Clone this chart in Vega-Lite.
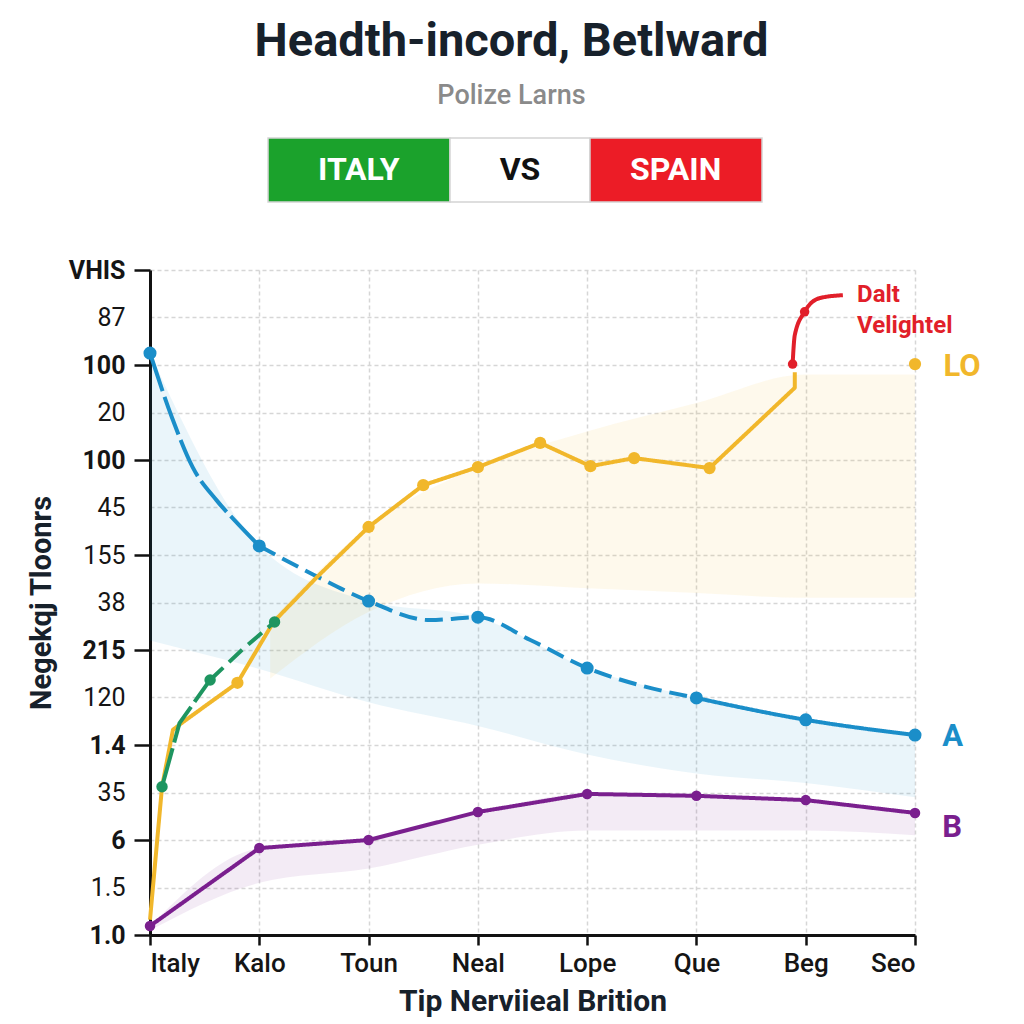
{
  "$schema": "https://vega.github.io/schema/vega-lite/v6.json",
  "autosize": {"type": "none"},
  "width": 765,
  "height": 665,
  "padding": {"left": 150, "top": 270, "right": 109, "bottom": 89},
  "background": "#ffffff",
  "config": {"font": "Roboto", "view": {"stroke": null}},
  "title": {
    "text": "Headth-incord, Betlward",
    "subtitle": "Polize Larns",
    "fontSize": 47,
    "fontWeight": "bold",
    "color": "#17212b",
    "subtitleFontSize": 27,
    "subtitleColor": "#8a8a8a",
    "subtitleFontWeight": 500,
    "subtitlePadding": 17,
    "anchor": "middle",
    "frame": "group",
    "dx": -21,
    "offset": 27
  },
  "datasets": {
    "lines": [
      {"s": "A", "g": "A1", "d": "long", "i": 0, "u": 0, "v": 12.25},
      {"s": "A", "g": "A1", "d": "long", "i": 1, "u": 0.2, "v": 10.9},
      {"s": "A", "g": "A1", "d": "long", "i": 2, "u": 0.39, "v": 9.85},
      {"s": "A", "g": "A1", "d": "long", "i": 3, "u": 0.61, "v": 9.15},
      {"s": "A", "g": "A1", "d": "long", "i": 4, "u": 0.82, "v": 8.62},
      {"s": "A", "g": "A1", "d": "long", "i": 5, "u": 1, "v": 8.19},
      {"s": "A", "g": "A2", "d": "dash", "i": 0, "u": 1, "v": 8.19},
      {"s": "A", "g": "A2", "d": "dash", "i": 1, "u": 1.5, "v": 7.58},
      {"s": "A", "g": "A2", "d": "dash", "i": 2, "u": 2, "v": 7.03},
      {"s": "A", "g": "A2", "d": "dash", "i": 3, "u": 2.56, "v": 6.63},
      {"s": "A", "g": "A2", "d": "dash", "i": 4, "u": 3, "v": 6.69},
      {"s": "A", "g": "A2", "d": "dash", "i": 5, "u": 3.48, "v": 6.21},
      {"s": "A", "g": "A2", "d": "dash", "i": 6, "u": 4, "v": 5.62},
      {"s": "A", "g": "A2", "d": "dash", "i": 7, "u": 4.48, "v": 5.26},
      {"s": "A", "g": "A2", "d": "dash", "i": 8, "u": 5, "v": 4.99},
      {"s": "A", "g": "A3", "d": "solid", "i": 0, "u": 5, "v": 4.99},
      {"s": "A", "g": "A3", "d": "solid", "i": 1, "u": 6, "v": 4.53},
      {"s": "A", "g": "A3", "d": "solid", "i": 2, "u": 7, "v": 4.21},
      {"s": "LO", "g": "L1", "d": "solid", "i": 0, "u": 0, "v": 0.32},
      {"s": "LO", "g": "L1", "d": "solid", "i": 1, "u": 0.11, "v": 3.12},
      {"s": "LO", "g": "L1", "d": "solid", "i": 2, "u": 0.21, "v": 4.32},
      {"s": "LO", "g": "L1", "d": "solid", "i": 3, "u": 0.3, "v": 4.48},
      {"s": "LO", "g": "L1", "d": "solid", "i": 4, "u": 0.8, "v": 5.31},
      {"s": "LO", "g": "L1", "d": "solid", "i": 5, "u": 1.13, "v": 6.59},
      {"s": "LO", "g": "L1", "d": "solid", "i": 6, "u": 1.53, "v": 7.54},
      {"s": "LO", "g": "L1", "d": "solid", "i": 7, "u": 2, "v": 8.59},
      {"s": "LO", "g": "L1", "d": "solid", "i": 8, "u": 2.5, "v": 9.47},
      {"s": "LO", "g": "L1", "d": "solid", "i": 9, "u": 3, "v": 9.85},
      {"s": "LO", "g": "L1", "d": "solid", "i": 10, "u": 3.57, "v": 10.36},
      {"s": "LO", "g": "L1", "d": "solid", "i": 11, "u": 4.03, "v": 9.87},
      {"s": "LO", "g": "L1", "d": "solid", "i": 12, "u": 4.43, "v": 10.04},
      {"s": "LO", "g": "L1", "d": "solid", "i": 13, "u": 5.12, "v": 9.83},
      {"s": "LO", "g": "L1", "d": "solid", "i": 14, "u": 5.9, "v": 11.52},
      {"s": "LO", "g": "L1", "d": "solid", "i": 15, "u": 5.9, "v": 11.85},
      {"s": "G", "g": "G1", "d": "long", "i": 0, "u": 0.11, "v": 3.12},
      {"s": "G", "g": "G1", "d": "long", "i": 1, "u": 0.27, "v": 4.46},
      {"s": "G", "g": "G1", "d": "long", "i": 2, "u": 0.55, "v": 5.37},
      {"s": "G", "g": "G2", "d": "dash", "i": 0, "u": 0.55, "v": 5.37},
      {"s": "G", "g": "G2", "d": "dash", "i": 1, "u": 0.85, "v": 6.02},
      {"s": "G", "g": "G2", "d": "dash", "i": 2, "u": 1.14, "v": 6.59},
      {"s": "B", "g": "B1", "d": "solid", "i": 0, "u": 0, "v": 0.19},
      {"s": "B", "g": "B1", "d": "solid", "i": 1, "u": 1, "v": 1.83},
      {"s": "B", "g": "B1", "d": "solid", "i": 2, "u": 2, "v": 2.0},
      {"s": "B", "g": "B1", "d": "solid", "i": 3, "u": 3, "v": 2.59},
      {"s": "B", "g": "B1", "d": "solid", "i": 4, "u": 4, "v": 2.97},
      {"s": "B", "g": "B1", "d": "solid", "i": 5, "u": 5, "v": 2.93},
      {"s": "B", "g": "B1", "d": "solid", "i": 6, "u": 6, "v": 2.84},
      {"s": "B", "g": "B1", "d": "solid", "i": 7, "u": 7, "v": 2.57},
      {"s": "R", "g": "R1", "d": "solid", "i": 0, "u": 5.88, "v": 12.02},
      {"s": "R", "g": "R1", "d": "solid", "i": 1, "u": 5.9, "v": 12.63},
      {"s": "R", "g": "R1", "d": "solid", "i": 2, "u": 5.99, "v": 13.12},
      {"s": "R", "g": "R1", "d": "solid", "i": 3, "u": 6.13, "v": 13.41},
      {"s": "R", "g": "R1", "d": "solid", "i": 4, "u": 6.34, "v": 13.47}
    ],
    "points": [
      {"s": "A", "u": 0, "v": 12.25}, {"s": "A", "u": 1, "v": 8.19}, {"s": "A", "u": 2, "v": 7.03},
      {"s": "A", "u": 3, "v": 6.69}, {"s": "A", "u": 4, "v": 5.62}, {"s": "A", "u": 5, "v": 4.99},
      {"s": "A", "u": 6, "v": 4.53}, {"s": "A", "u": 7, "v": 4.21},
      {"s": "LO", "u": 0.8, "v": 5.31}, {"s": "LO", "u": 2, "v": 8.59}, {"s": "LO", "u": 2.5, "v": 9.47},
      {"s": "LO", "u": 3, "v": 9.85}, {"s": "LO", "u": 3.57, "v": 10.36}, {"s": "LO", "u": 4.03, "v": 9.87},
      {"s": "LO", "u": 4.43, "v": 10.04}, {"s": "LO", "u": 5.12, "v": 9.83}, {"s": "LO", "u": 7, "v": 12.02},
      {"s": "G", "u": 0.11, "v": 3.12}, {"s": "G", "u": 0.55, "v": 5.37}, {"s": "G", "u": 1.14, "v": 6.59},
      {"s": "B", "u": 0, "v": 0.19}, {"s": "B", "u": 1, "v": 1.83}, {"s": "B", "u": 2, "v": 2.0},
      {"s": "B", "u": 3, "v": 2.59}, {"s": "B", "u": 4, "v": 2.97}, {"s": "B", "u": 5, "v": 2.93},
      {"s": "B", "u": 6, "v": 2.84}, {"s": "B", "u": 7, "v": 2.57},
      {"s": "R", "u": 5.88, "v": 12.02}, {"s": "R", "u": 5.99, "v": 13.12}
    ],
    "bands": [
      {"s": "A", "u": 0, "v": 12.25, "v2": 6.2}, {"s": "A", "u": 1, "v": 8.19, "v2": 5.6},
      {"s": "A", "u": 2, "v": 7.03, "v2": 4.9}, {"s": "A", "u": 3, "v": 6.69, "v2": 4.4},
      {"s": "A", "u": 4, "v": 5.62, "v2": 3.8}, {"s": "A", "u": 5, "v": 4.99, "v2": 3.4},
      {"s": "A", "u": 6, "v": 4.53, "v2": 3.2}, {"s": "A", "u": 7, "v": 4.21, "v2": 2.9},
      {"s": "LO", "u": 1.1, "v": 6.6, "v2": 5.4}, {"s": "LO", "u": 2, "v": 8.6, "v2": 6.8},
      {"s": "LO", "u": 3, "v": 9.85, "v2": 7.4}, {"s": "LO", "u": 4, "v": 10.6, "v2": 7.3},
      {"s": "LO", "u": 5, "v": 11.2, "v2": 7.2}, {"s": "LO", "u": 6, "v": 11.8, "v2": 7.1},
      {"s": "LO", "u": 7, "v": 11.8, "v2": 7.1},
      {"s": "B", "u": 0, "v": 0.19, "v2": 0.1}, {"s": "B", "u": 1, "v": 1.83, "v2": 1.1},
      {"s": "B", "u": 2, "v": 2.0, "v2": 1.4}, {"s": "B", "u": 3, "v": 2.59, "v2": 1.9},
      {"s": "B", "u": 4, "v": 2.97, "v2": 2.2}, {"s": "B", "u": 5, "v": 2.93, "v2": 2.2},
      {"s": "B", "u": 6, "v": 2.84, "v2": 2.2}, {"s": "B", "u": 7, "v": 2.57, "v2": 2.1}
    ],
    "labels": [
      {"s": "R", "t": "Dalt", "u": 6.47, "v": 13.47},
      {"s": "R", "t": "Velightel", "u": 6.47, "v": 12.82},
      {"s": "LO", "t": "LO", "u": 7.26, "v": 11.96},
      {"s": "A", "t": "A", "u": 7.25, "v": 4.17},
      {"s": "B", "t": "B", "u": 7.25, "v": 2.25}
    ],
    "banner": [
      {"t": "ITALY", "u": 1.08, "u2": 2.745, "uc": 1.91, "v": 15.43, "v2": 16.78, "vc": 16.1},
      {"t": "VS", "u": 2.745, "u2": 4.026, "uc": 3.385, "v": 15.43, "v2": 16.78, "vc": 16.1},
      {"t": "SPAIN", "u": 4.026, "u2": 5.6, "uc": 4.81, "v": 15.43, "v2": 16.78, "vc": 16.1}
    ]
  },
  "encoding": {
    "x": {
      "field": "u", "type": "quantitative",
      "scale": {"domain": [0, 7], "nice": false, "zero": false},
      "axis": {
        "title": "Tip Nerviieal Brition",
        "values": [0, 1, 2, 3, 4, 5, 6, 7],
        "labelExpr": "['Italy','Kalo','Toun','Neal','Lope','Que','Beg','Seo'][datum.value]",
        "labelFontSize": 26, "labelFontWeight": 500, "labelColor": "#151515", "labelPadding": 5,
        "titleFontSize": 30, "titleFontWeight": "bold", "titleColor": "#17212b", "titlePadding": 10,
        "grid": true, "gridColor": "#d6d6d6", "gridDash": [4, 3], "gridWidth": 1.5,
        "domainColor": "#111111", "domainWidth": 3, "tickColor": "#111111", "tickWidth": 2.5, "tickSize": 10
      }
    },
    "y": {
      "field": "v", "type": "quantitative",
      "scale": {"domain": [0, 14], "nice": false, "zero": false},
      "axis": {
        "title": "Negekqj Tloonrs",
        "values": [0, 1, 2, 3, 4, 5, 6, 7, 8, 9, 10, 11, 12, 13, 14],
        "labelExpr": "['1.0','1.5','6','35','1.4','120','215','38','155','45','100','20','100','87','VHIS'][datum.value]",
        "labelFontSize": 25, "labelColor": "#151515", "labelPadding": 9,
        "labelFontWeight": {"condition": {"test": "datum.value % 2 == 0 && datum.value != 8", "value": "bold"}, "value": "normal"},
        "tickOpacity": {"condition": {"test": "datum.value % 2 == 0", "value": 1}, "value": 0},
        "titleFontSize": 29, "titleFontWeight": "bold", "titleColor": "#17212b", "titlePadding": 12,
        "grid": true, "gridColor": "#d6d6d6", "gridDash": [4, 3], "gridWidth": 1.5,
        "domainColor": "#111111", "domainWidth": 3, "tickColor": "#111111", "tickWidth": 2.5, "tickSize": 16
      }
    }
  },
  "layer": [
    {
      "data": {"name": "bands"},
      "mark": {"type": "area", "fillOpacity": 0.09, "interpolate": "monotone"},
      "encoding": {
        "y2": {"field": "v2"},
        "color": {"field": "s", "type": "nominal", "legend": null,
          "scale": {"domain": ["A", "LO", "G", "B", "R"], "range": ["#1b8ec9", "#f1b72b", "#1e9560", "#7a1f8e", "#e11f2a"]}},
        "detail": {"field": "s"}
      }
    },
    {
      "data": {"name": "lines"},
      "transform": [{"filter": "datum.s == 'A' || datum.s == 'R'"}],
      "mark": {"type": "line", "strokeWidth": 4, "strokeCap": "butt", "strokeJoin": "round", "interpolate": "monotone"},
      "encoding": {
        "color": {"field": "s", "type": "nominal", "legend": null},
        "detail": {"field": "g"},
        "order": {"field": "i", "type": "quantitative"},
        "strokeDash": {"field": "d", "type": "nominal", "legend": null,
          "scale": {"domain": ["solid", "dash", "long"], "range": [[1, 0], [18, 8], [40, 6]]}}
      }
    },
    {
      "data": {"name": "lines"},
      "transform": [{"filter": "datum.s != 'A' && datum.s != 'R'"}],
      "mark": {"type": "line", "strokeWidth": 4, "strokeCap": "butt", "strokeJoin": "round", "interpolate": "linear"},
      "encoding": {
        "color": {"field": "s", "type": "nominal", "legend": null},
        "detail": {"field": "g"},
        "order": {"field": "i", "type": "quantitative"},
        "strokeDash": {"field": "d", "type": "nominal", "legend": null}
      }
    },
    {
      "data": {"name": "points"},
      "mark": {"type": "point", "filled": true, "opacity": 1},
      "encoding": {
        "color": {"field": "s", "type": "nominal", "legend": null},
        "size": {"field": "s", "type": "nominal", "legend": null,
          "scale": {"domain": ["A", "LO", "G", "B", "R"], "range": [170, 90, 150, 180, 200]}}
      }
    },
    {
      "data": {"name": "labels"},
      "transform": [{"filter": "datum.s == 'R'"}],
      "mark": {"type": "text", "align": "left", "baseline": "middle", "fontSize": 24, "fontWeight": "bold"},
      "encoding": {
        "text": {"field": "t"},
        "color": {"field": "s", "type": "nominal", "legend": null}
      }
    },
    {
      "data": {"name": "labels"},
      "transform": [{"filter": "datum.s != 'R'"}],
      "mark": {"type": "text", "align": "left", "baseline": "middle", "fontSize": 31, "fontWeight": "bold"},
      "encoding": {
        "text": {"field": "t"},
        "color": {"field": "s", "type": "nominal", "legend": null}
      }
    },
    {
      "data": {"name": "banner"},
      "mark": {"type": "rect", "stroke": "#d4d4d4", "strokeWidth": 1.5},
      "encoding": {
        "x2": {"field": "u2"},
        "y2": {"field": "v2"},
        "fill": {"condition": [{"test": "datum.t == 'ITALY'", "value": "#1ba22c"}, {"test": "datum.t == 'SPAIN'", "value": "#ec1c26"}], "value": "#ffffff"}
      }
    },
    {
      "data": {"name": "banner"},
      "mark": {"type": "text", "align": "center", "baseline": "middle", "fontSize": 32, "fontWeight": "bold"},
      "encoding": {
        "x": {"field": "uc", "type": "quantitative"},
        "y": {"field": "vc", "type": "quantitative"},
        "text": {"field": "t"},
        "color": {"condition": {"test": "datum.t == 'VS'", "value": "#111111"}, "value": "#ffffff"}
      }
    }
  ]
}
